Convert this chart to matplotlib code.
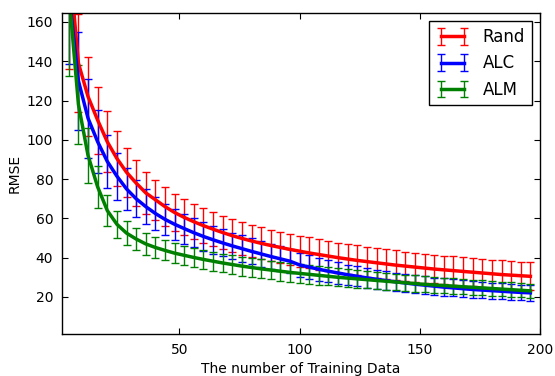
import numpy as np
import matplotlib.pyplot as plt

# number of training data (every 4th point)
x = np.arange(4, 200, 4)

rand_mean = [194, 139, 122, 110, 99, 90.5, 83.5, 78, 73, 69.5,
             66, 63, 60.5, 58.3, 56.3, 54.5, 52.8, 51.2, 49.8, 48.5,
             47.3, 46.2, 45.2, 44.2, 43.3, 42.4, 41.6, 40.8, 40, 39.3,
             38.6, 38, 37.4, 36.8, 36.2, 35.7, 35.2, 34.7, 34.2, 33.8,
             33.4, 33, 32.6, 32.2, 31.8, 31.4, 31.1, 30.8, 30.5]
rand_err = [58, 25, 20, 17, 15.5, 14, 12.5, 11.5, 10.8, 10.2,
            9.8, 9.5, 9.2, 9, 8.8, 8.7, 8.6, 8.5, 8.4, 8.3,
            8.2, 8.1, 8, 8, 7.9, 7.9, 7.8, 7.8, 7.7, 7.7,
            7.6, 7.6, 7.5, 7.5, 7.5, 7.4, 7.4, 7.4, 7.3, 7.3,
            7.3, 7.3, 7.2, 7.2, 7.2, 7.2, 7.2, 7.2, 7.2]

alc_mean = [175, 130, 111, 99, 89, 81.5, 75, 70, 66, 62.5,
            59.5, 57, 54.8, 52.7, 50.8, 49.1, 47.5, 46, 44.6, 43.2,
            41.9, 40.6, 39.4, 38.2, 36.3, 35.2, 34.1, 33.1, 32.2, 31.3,
            30.5, 29.7, 29, 28.3, 27.7, 27.1, 26.5, 26, 25.5, 25,
            24.6, 24.2, 23.8, 23.5, 23.2, 22.9, 22.6, 22.3, 22.1]
alc_err = [36.6, 25, 20, 16, 13.5, 12, 10.5, 9.5, 9, 8.5,
           8, 7.8, 7.6, 7.4, 7.2, 7, 6.9, 6.8, 6.7, 6.6,
           6.5, 6.4, 6.3, 6.2, 6.1, 6, 5.8, 5.6, 5.4, 5.2,
           5.1, 5, 4.9, 4.8, 4.7, 4.6, 4.5, 4.5, 4.4, 4.4,
           4.3, 4.3, 4.2, 4.2, 4.1, 4.1, 4, 4, 4]

alm_mean = [175, 118, 92, 76, 64, 57, 52.5, 49.5, 47, 45.2,
            43.7, 42.3, 41.2, 40.1, 39.1, 38.2, 37.3, 36.5, 35.7, 35,
            34.3, 33.7, 33.1, 32.5, 32, 31.5, 31, 30.5, 30, 29.6,
            29.2, 28.8, 28.4, 28, 27.6, 27.2, 26.8, 26.4, 26.1, 25.8,
            25.5, 25.2, 24.9, 24.6, 24.3, 24, 23.7, 23.4, 23.1]
alm_err = [42.5, 20, 14, 10.5, 8, 7, 6.3, 5.8, 5.5, 5.3,
           5.1, 5, 4.9, 4.9, 4.8, 4.8, 4.8, 4.8, 4.8, 4.8,
           4.8, 4.8, 4.8, 4.8, 4.8, 4.7, 4.7, 4.6, 4.6, 4.5,
           4.5, 4.4, 4.4, 4.3, 4.3, 4.2, 4.2, 4.1, 4.1, 4,
           4, 3.9, 3.9, 3.8, 3.8, 3.7, 3.7, 3.6, 3.6]

series = [('Rand', rand_mean, rand_err, 'r'),
          ('ALC', alc_mean, alc_err, 'b'),
          ('ALM', alm_mean, alm_err, 'g')]

plt.rcParams['font.family'] = 'DejaVu Sans'
plt.rcParams['legend.numpoints'] = 2

fig = plt.figure(figsize=(5.55, 3.76), dpi=100)
ax = fig.add_axes([0.111, 0.111, 0.862, 0.854])

for name, mean, err, c in series:
    ax.errorbar(x, mean, yerr=err, fmt='-', color=c, lw=2.5,
                elinewidth=1, capsize=3, label=name)

ax.set_xlim(1, 200)
ax.set_ylim(1, 164.5)
ax.set_xticks([50, 100, 150, 200])
ax.set_yticks([20, 40, 60, 80, 100, 120, 140, 160])
ax.tick_params(direction='in', top=True, right=True, length=4, labelsize=10, pad=6)
for s in ax.spines.values():
    s.set_linewidth(1)
ax.set_xlabel('The number of Training Data', fontsize=10)
ax.set_ylabel('RMSE', fontsize=10)

leg = ax.legend(loc='upper right', fontsize=12, fancybox=False, framealpha=1)
leg.get_frame().set_edgecolor('black')

fig.savefig('out.png', dpi=100)
